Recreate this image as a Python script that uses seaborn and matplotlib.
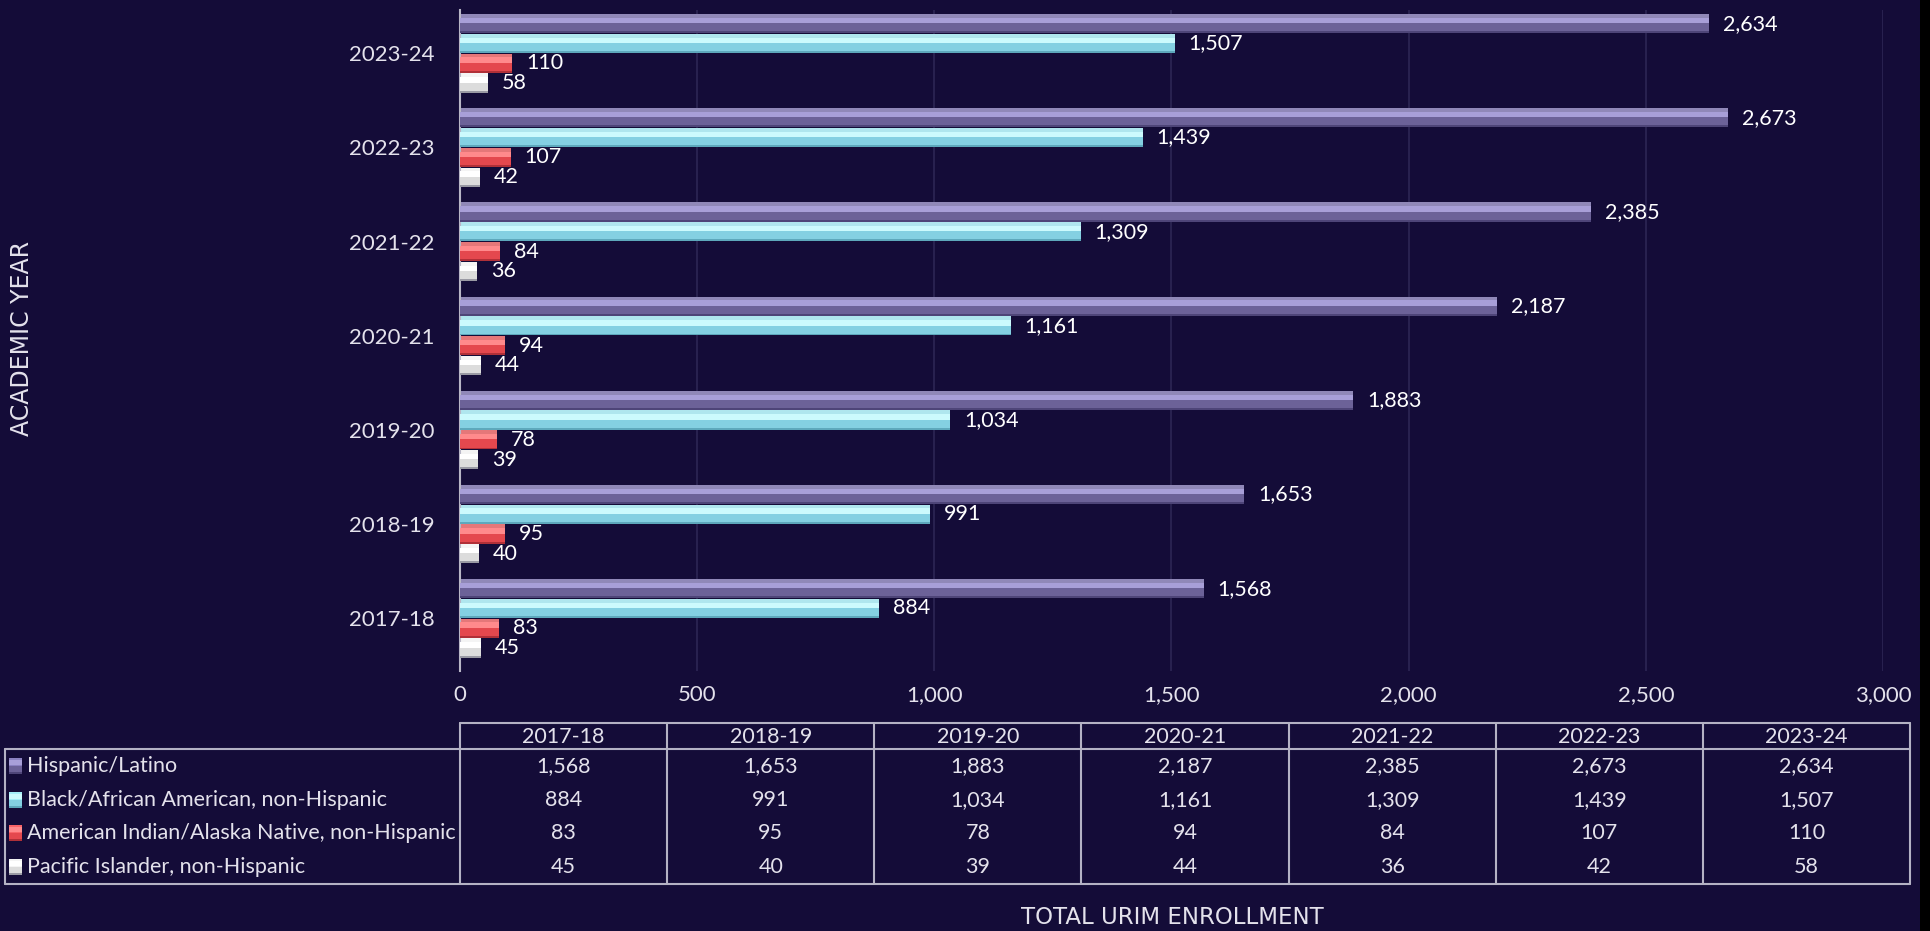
"""
Horizontal grouped bar chart of URIM enrollment by academic year,
with a data table under the plot on a dark navy background.
"""
import seaborn as sns
import pandas as pd
import matplotlib.pyplot as plt
from matplotlib.patches import Rectangle
from matplotlib.ticker import FuncFormatter


YEARS = ["2017-18", "2018-19", "2019-20", "2020-21",
         "2021-22", "2022-23", "2023-24"]
GROUPS = ["Hispanic/Latino",
          "Black/African American, non-Hispanic",
          "American Indian/Alaska Native, non-Hispanic",
          "Pacific Islander, non-Hispanic"]

HISPANIC = [1568, 1653, 1883, 2187, 2385, 2673, 2634]
BLACK = [884, 991, 1034, 1161, 1309, 1439, 1507]
NATIVE = [83, 95, 78, 94, 84, 107, 110]
PACIFIC = [45, 40, 39, 44, 36, 42, 58]

X_TICKS = [0, 500, 1000, 1500, 2000, 2500, 3000]

BG = "#140c38"
TEXT = "#e4e2ec"
BASE = ["#8a80c0", "#a4eef8", "#f86468", "#f4f4f4"]
LIGHT = ["#a89fd8", "#ccfafd", "#ff8a8c", "#ffffff"]
DARK = ["#6c6298", "#84d0e2", "#e4484e", "#dcdcdc"]
DEEP = ["#4e4578", "#5ea8bc", "#b03038", "#9a9aa4"]

W, H = 1931, 931
FS = 15.5


def build_frame():
    rows = []
    for name, vals in zip(GROUPS, [HISPANIC, BLACK, NATIVE, PACIFIC]):
        for year, v in zip(YEARS, vals):
            rows.append({"year": year, "group": name, "value": v})
    return pd.DataFrame(rows)


def bevel(ax):
    # fake the 3D look: light band on top, darker lower half, dark edge
    for i, cont in enumerate(ax.containers):
        for p in cont.patches:
            x0, y0 = p.get_x(), p.get_y()
            w, h = p.get_width(), p.get_height()
            ax.add_patch(Rectangle((x0, y0 + 0.2 * h), w, 0.28 * h,
                                   color=LIGHT[i], lw=0, zorder=3))
            ax.add_patch(Rectangle((x0, y0 + 0.48 * h), w, 0.42 * h,
                                   color=DARK[i], lw=0, zorder=3))
            ax.add_patch(Rectangle((x0, y0 + 0.9 * h), w, 0.1 * h,
                                   color=DEEP[i], lw=0, zorder=3))


def draw_table(tab):
    left, right = 460, 1910
    col_w = (right - left) / len(YEARS)
    top, head, bottom = 723, 749, 884
    row_h = (bottom - head) / len(GROUPS)
    line = dict(color="#b4b2c4", lw=1.5)

    # header box and column lines
    tab.plot([left, right], [top, top], **line)
    tab.plot([5, right], [head, head], **line)
    tab.plot([5, right], [bottom, bottom], **line)
    tab.plot([5, 5], [head, bottom], **line)
    for k in range(len(YEARS) + 1):
        x = left + k * col_w
        tab.plot([x, x], [top, bottom], **line)

    for k, year in enumerate(YEARS):
        tab.text(left + (k + 0.5) * col_w, (top + head) / 2 + 1, year,
                 ha="center", va="center", color=TEXT, fontsize=FS)

    series = [HISPANIC, BLACK, NATIVE, PACIFIC]
    for r, (name, vals) in enumerate(zip(GROUPS, series)):
        yc = head + (r + 0.5) * row_h
        tab.add_patch(Rectangle((9, yc - 8), 13, 16, color=BASE[r], lw=0))
        tab.add_patch(Rectangle((9, yc - 6), 13, 5, color=LIGHT[r], lw=0))
        tab.add_patch(Rectangle((9, yc), 13, 6, color=DARK[r], lw=0))
        tab.add_patch(Rectangle((9, yc + 6), 13, 2, color=DEEP[r], lw=0))
        tab.text(27, yc, name, ha="left", va="center",
                 color=TEXT, fontsize=FS)
        for k, v in enumerate(vals):
            tab.text(left + (k + 0.5) * col_w, yc, f"{v:,}",
                     ha="center", va="center", color=TEXT, fontsize=FS)


def main():
    sns.set_theme(style="dark")
    plt.rcParams["font.family"] = ["Lato", "DejaVu Sans"]

    fig = plt.figure(figsize=(W / 100, H / 100), dpi=100, facecolor=BG)

    tab = fig.add_axes([0, 0, 1, 1])
    tab.set_xlim(0, W)
    tab.set_ylim(H, 0)
    tab.axis("off")
    tab.add_patch(Rectangle((1920, 0), 11, H, color="black", lw=0))
    draw_table(tab)

    ax = fig.add_axes([460 / W, 1 - 671 / H, (1883 - 460) / W, 661 / H])
    ax.set_facecolor("none")

    df = build_frame()
    sns.barplot(data=df, y="year", x="value", hue="group", orient="h",
                order=YEARS[::-1], hue_order=GROUPS, palette=BASE,
                width=0.84, gap=0.03, legend=False, ax=ax, zorder=2,
                linewidth=0)
    bevel(ax)

    for cont in ax.containers:
        ax.bar_label(cont, labels=[f"{int(v):,}" for v in cont.datavalues],
                     padding=10, color="white", fontsize=FS)

    ax.set_xlim(0, 3000)
    ax.set_ylim(6.56, -0.46)
    ax.set_xticks(X_TICKS)
    ax.xaxis.set_major_formatter(FuncFormatter(lambda v, _: f"{int(v):,}"))
    ax.tick_params(axis="both", length=0, colors=TEXT, labelsize=FS + 0.5)
    ax.tick_params(axis="x", pad=10)
    ax.tick_params(axis="y", pad=18)
    ax.grid(axis="x", color="#2d2654", lw=1.2, zorder=0)
    ax.grid(axis="y", visible=False)
    for side in ["top", "right", "bottom"]:
        ax.spines[side].set_visible(False)
    ax.spines["left"].set_color("#b8b6c6")
    ax.spines["left"].set_linewidth(1.5)
    ax.set_xlabel("")
    ax.set_ylabel("")

    fig.text(22 / W, 1 - 338 / H, "ACADEMIC YEAR", rotation=90,
             ha="center", va="center", color=TEXT, fontsize=17,
             family="DejaVu Sans")
    fig.text(1172 / W, 1 - 917 / H, "TOTAL URIM ENROLLMENT",
             ha="center", va="center", color=TEXT, fontsize=16.5,
             family="DejaVu Sans")

    plt.savefig("out.png", dpi=100, facecolor=BG)


if __name__ == "__main__":
    main()
